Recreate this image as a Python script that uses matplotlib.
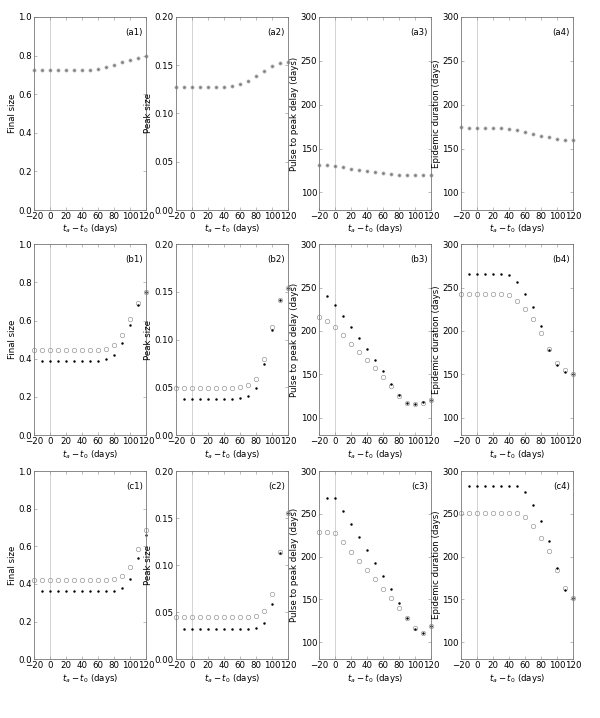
import matplotlib
matplotlib.use("Agg")
import matplotlib.pyplot as plt
import numpy as np

# x values: t_a - t_0 (days)
t_open = [-20, -10, 0, 10, 20, 30, 40, 50, 60, 70, 80, 90, 100, 110, 120]
t_dot = [-10, 0, 10, 20, 30, 40, 50, 60, 70, 80, 90, 100, 110, 120]

# row (a): single scenario
a1 = [0.725, 0.725, 0.725, 0.725, 0.725, 0.725, 0.725, 0.727, 0.732, 0.741, 0.753, 0.765, 0.779, 0.788, 0.797]
a2 = [0.127, 0.127, 0.127, 0.127, 0.127, 0.127, 0.127, 0.128, 0.130, 0.134, 0.139, 0.144, 0.149, 0.152, 0.153]
a3 = [131.7, 131.0, 130.0, 128.6, 127.0, 125.6, 124.4, 123.3, 121.8, 120.6, 120.2, 119.8, 119.8, 119.8, 120.0]
a4 = [174.0, 173.7, 173.7, 173.7, 173.3, 173.0, 171.8, 170.6, 168.7, 166.8, 164.0, 162.6, 161.0, 160.3, 159.5]

# row (b): open circles / black dots
b1_open = [0.445, 0.445, 0.445, 0.445, 0.445, 0.445, 0.445, 0.445, 0.445, 0.450, 0.472, 0.525, 0.606, 0.690, 0.750]
b1_dot = [0.386, 0.386, 0.386, 0.386, 0.386, 0.386, 0.386, 0.390, 0.397, 0.418, 0.480, 0.578, 0.680, 0.750]
b2_open = [0.049, 0.049, 0.049, 0.049, 0.049, 0.049, 0.049, 0.049, 0.050, 0.052, 0.059, 0.080, 0.113, 0.141, 0.154]
b2_dot = [0.038, 0.038, 0.038, 0.038, 0.038, 0.038, 0.038, 0.039, 0.041, 0.049, 0.074, 0.110, 0.141, 0.154]
b3_open = [216.0, 211.9, 204.6, 195.0, 185.4, 175.9, 166.3, 156.9, 146.7, 136.4, 125.3, 116.9, 116.0, 117.2, 120.0]
b3_dot = [240.2, 230.3, 217.6, 204.6, 192.0, 179.0, 166.5, 153.4, 138.9, 125.9, 117.0, 116.0, 117.6, 120.0]
b4_open = [242.0, 242.0, 242.0, 242.0, 242.0, 242.0, 241.2, 235.0, 225.6, 213.7, 198.0, 179.0, 163.0, 154.6, 150.8]
b4_dot = [266.0, 266.0, 266.0, 266.0, 266.0, 265.0, 256.5, 243.0, 227.0, 205.3, 178.6, 160.3, 152.3, 150.0]

# row (c): open circles / black dots
c1_open = [0.423, 0.423, 0.423, 0.423, 0.423, 0.423, 0.423, 0.423, 0.423, 0.423, 0.428, 0.442, 0.488, 0.583, 0.687]
c1_dot = [0.360, 0.360, 0.360, 0.360, 0.360, 0.360, 0.360, 0.360, 0.360, 0.364, 0.380, 0.428, 0.537, 0.660]
c2_open = [0.0444, 0.0444, 0.0444, 0.0444, 0.0444, 0.0444, 0.0444, 0.0444, 0.0444, 0.0444, 0.0458, 0.0507, 0.0688, 0.114, 0.155]
c2_dot = [0.032, 0.032, 0.032, 0.032, 0.032, 0.032, 0.032, 0.032, 0.032, 0.0336, 0.0388, 0.059, 0.113, 0.155]
c3_open = [228.5, 228.5, 227.7, 216.9, 205.8, 195.0, 184.2, 173.5, 162.3, 151.5, 140.0, 128.0, 116.9, 110.8, 119.2]
c3_dot = [268.8, 268.0, 252.7, 237.7, 222.7, 207.3, 192.3, 177.0, 161.5, 145.8, 128.1, 115.4, 110.4, 119.2]
c4_open = [251.0, 251.0, 251.0, 251.0, 251.0, 251.0, 251.0, 251.0, 246.4, 235.3, 222.2, 206.2, 184.0, 162.6, 152.0]
c4_dot = [282.8, 282.8, 282.8, 282.8, 282.8, 282.8, 282.8, 275.9, 259.8, 241.5, 218.5, 186.4, 160.4, 151.0]

ylabels = ["Final size", "Peak size", "Pulse to peak delay (days)", "Epidemic duration (days)"]
ylims = [(0, 1.0), (0, 0.2), (80, 300), (80, 300)]
yticks = [np.arange(0, 1.01, 0.2), np.arange(0, 0.201, 0.05), np.arange(100, 301, 50), np.arange(100, 301, 50)]
yfmt = ["%.1f", "%.2f", "%d", "%d"]

rows = [
    ("a", [(a1, a1), (a2, a2), (a3, a3), (a4, a4)]),
    ("b", [(b1_open, b1_dot), (b2_open, b2_dot), (b3_open, b3_dot), (b4_open, b4_dot)]),
    ("c", [(c1_open, c1_dot), (c2_open, c2_dot), (c3_open, c3_dot), (c4_open, c4_dot)]),
]

FS = 6.2
lefts = [0.057, 0.293, 0.532, 0.768]
bottoms = [0.7075, 0.394, 0.082]
heights = [0.269, 0.266, 0.262]
W = 0.187

fig = plt.figure(figsize=(6.0, 7.18), dpi=100)

for r, (tag, panels) in enumerate(rows):
    for c, (y_open, y_dot) in enumerate(panels):
        ax = fig.add_axes([lefts[c], bottoms[r], W, heights[r]])
        ax.axvline(0, color="#cccccc", lw=0.6, zorder=0)
        ms = 2.2 if tag == "a" else 3.2
        ax.plot(t_open, y_open, "o", ms=ms, mfc="none", mec="#999999", mew=0.5, clip_on=False)
        if tag == "a":
            ax.plot(t_open, y_dot, ".", ms=1.2, color="#666666", clip_on=False)
        else:
            ax.plot(t_dot, y_dot, ".", ms=1.5, color="black", clip_on=False)
        ax.set_xlim(-20, 120)
        ax.set_ylim(*ylims[c])
        ax.set_xticks(np.arange(-20, 121, 20))
        ax.set_yticks(yticks[c])
        ax.set_yticklabels([yfmt[c] % v for v in yticks[c]])
        ax.tick_params(direction="in", top=True, right=True, length=2.5, width=0.4,
                       color="#888888", labelsize=FS, pad=1.5)
        for s in ax.spines.values():
            s.set_color("#777777")
            s.set_linewidth(0.6)
        ax.set_ylabel(ylabels[c], fontsize=FS, labelpad=1)
        ax.set_xlabel("$t_a - t_0$ (days)", fontsize=FS, labelpad=1)
        ax.text(0.97, 0.92, "(%s%d)" % (tag, c + 1), transform=ax.transAxes,
                ha="right", va="center", fontsize=FS)

fig.savefig("out.png", dpi=100)
